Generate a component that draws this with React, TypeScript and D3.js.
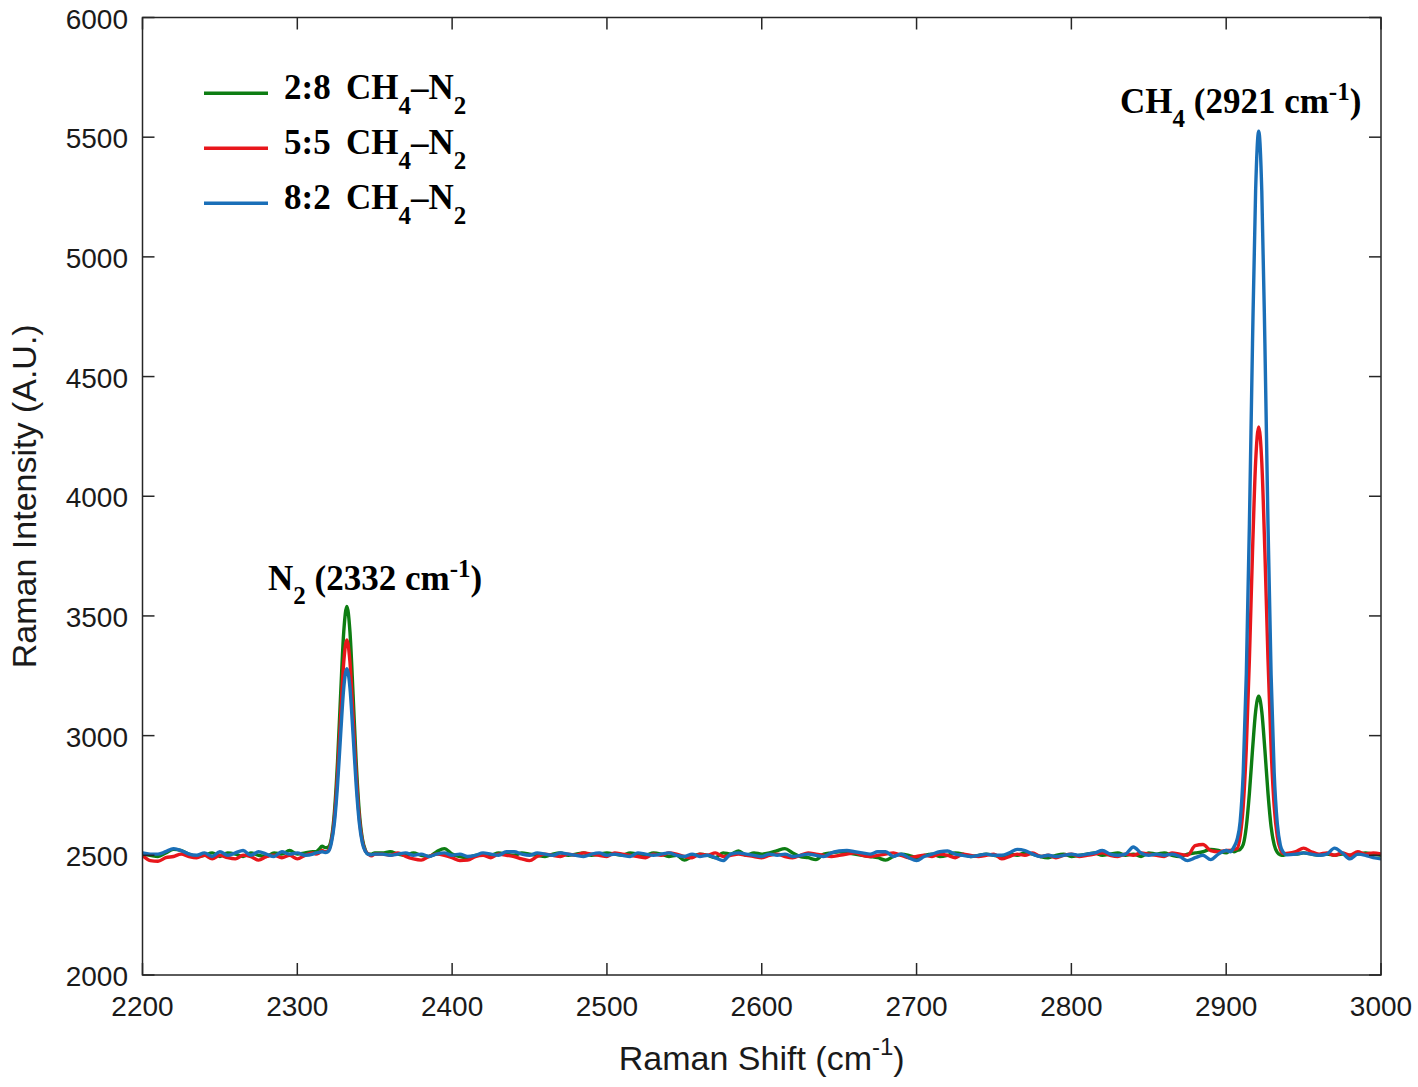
import React from "react";
import * as d3 from "d3";

// Raman shift sampling positions (cm^-1)
const ramanShift = [
  // 2200-2310
  2200, 2205, 2210, 2215, 2220, 2225, 2230, 2235, 2240, 2245, 2250, 2255, 2260, 2265, 2270, 2275, 2280, 2285, 2290, 2295, 2300, 2305, 2310,
  // N2 band
  2312, 2314, 2316, 2318, 2320, 2322, 2324, 2326, 2328, 2330, 2332, 2334, 2336, 2338, 2340, 2342, 2344, 2346, 2348, 2350,
  // 2355-2900
  2355, 2360, 2365, 2370, 2375, 2380, 2385, 2390, 2395, 2400,
  2405, 2410, 2415, 2420, 2425, 2430, 2435, 2440, 2445, 2450,
  2455, 2460, 2465, 2470, 2475, 2480, 2485, 2490, 2495, 2500,
  2505, 2510, 2515, 2520, 2525, 2530, 2535, 2540, 2545, 2550,
  2555, 2560, 2565, 2570, 2575, 2580, 2585, 2590, 2595, 2600,
  2605, 2610, 2615, 2620, 2625, 2630, 2635, 2640, 2645, 2650,
  2655, 2660, 2665, 2670, 2675, 2680, 2685, 2690, 2695, 2700,
  2705, 2710, 2715, 2720, 2725, 2730, 2735, 2740, 2745, 2750,
  2755, 2760, 2765, 2770, 2775, 2780, 2785, 2790, 2795, 2800,
  2805, 2810, 2815, 2820, 2825, 2830, 2835, 2840, 2845, 2850,
  2855, 2860, 2865, 2870, 2875, 2880, 2885, 2890, 2895, 2900,
  // CH4 band
  2903, 2905, 2907, 2909, 2911, 2913, 2915, 2917, 2919, 2921, 2923, 2925, 2927, 2929, 2931, 2933, 2935, 2937, 2939,
  // 2945-3000
  2945, 2950, 2955, 2960, 2965, 2970, 2975, 2980, 2985, 2990, 2995, 3000,
];

const intensity28 = [
  2505, 2500, 2495, 2510, 2525, 2520, 2505, 2495, 2500, 2510, 2495, 2510, 2505, 2495, 2510, 2500, 2495, 2510, 2505, 2520, 2505, 2510, 2515,
  2515, 2525, 2538, 2532, 2535, 2570, 2684, 2893, 3175, 3434, 3540, 3434, 3175, 2893, 2684, 2570, 2521, 2505, 2505, 2510,
  2510, 2515, 2505, 2500, 2510, 2500, 2495, 2515, 2528, 2505,
  2495, 2490, 2500, 2505, 2500, 2510, 2505, 2500, 2510, 2505,
  2500, 2495, 2505, 2510, 2500, 2505, 2510, 2500, 2505, 2510,
  2505, 2500, 2510, 2505, 2500, 2510, 2505, 2495, 2500, 2480,
  2495, 2505, 2500, 2490, 2510, 2505, 2518, 2500, 2510, 2505,
  2510, 2520, 2528, 2510, 2495, 2490, 2482, 2505, 2510, 2515,
  2510, 2505, 2500, 2495, 2490, 2480, 2495, 2505, 2500, 2490,
  2500, 2505, 2495, 2500, 2510, 2505, 2495, 2500, 2505, 2500,
  2495, 2505, 2500, 2510, 2505, 2495, 2490, 2500, 2505, 2495,
  2500, 2505, 2510, 2500, 2505, 2510, 2500, 2505, 2495, 2510,
  2505, 2510, 2500, 2495, 2505, 2510, 2515, 2525, 2520, 2510,
  2520, 2515, 2520, 2525, 2545, 2620, 2760, 2940, 3100, 3165, 3100, 2940, 2760, 2620, 2545, 2512, 2502, 2500, 2505,
  2505, 2510, 2505, 2500, 2505, 2500, 2505, 2500, 2505, 2510, 2505, 2500,
];

const intensity55 = [
  2500, 2478, 2475, 2490, 2495, 2505, 2495, 2490, 2500, 2485, 2500, 2490, 2485, 2500, 2495, 2480, 2495, 2500, 2490, 2500, 2485, 2500, 2510,
  2505, 2510, 2520, 2515, 2520, 2560, 2659, 2840, 3084, 3308, 3400, 3308, 3084, 2840, 2659, 2560, 2518, 2505, 2498, 2505,
  2505, 2500, 2510, 2495, 2485, 2480, 2495, 2505, 2500, 2490,
  2478, 2480, 2495, 2500, 2490, 2505, 2500, 2495, 2485, 2478,
  2495, 2505, 2500, 2495, 2505, 2500, 2510, 2505, 2500, 2495,
  2510, 2505, 2500, 2495, 2490, 2505, 2500, 2510, 2505, 2495,
  2490, 2505, 2500, 2510, 2495, 2500, 2505, 2500, 2495, 2490,
  2500, 2505, 2495, 2490, 2500, 2510, 2505, 2500, 2495, 2500,
  2505, 2510, 2500, 2495, 2500, 2505, 2510, 2500, 2490, 2495,
  2500, 2495, 2505, 2500, 2490, 2505, 2500, 2495, 2500, 2505,
  2485, 2495, 2505, 2500, 2510, 2495, 2500, 2490, 2500, 2505,
  2495, 2500, 2505, 2510, 2500, 2495, 2505, 2500, 2510, 2505,
  2500, 2495, 2510, 2505, 2500, 2540, 2545, 2520, 2515, 2520,
  2520, 2525, 2528, 2579, 2704, 2948, 3320, 3766, 4141, 4290, 4141, 3766, 3320, 2948, 2704, 2579, 2525, 2507, 2508,
  2515, 2530, 2515, 2505, 2510, 2500, 2510, 2500, 2515, 2505, 2510, 2505,
];

const intensity82 = [
  2510, 2505, 2505, 2515, 2528, 2520, 2505, 2500, 2510, 2495, 2515, 2500, 2510, 2520, 2500, 2515, 2505, 2495, 2515, 2505, 2510, 2500, 2505,
  2510, 2512, 2515, 2512, 2516, 2552, 2638, 2795, 3006, 3200, 3280, 3200, 3006, 2795, 2638, 2552, 2516, 2504, 2502, 2505,
  2505, 2500, 2505, 2510, 2500, 2505, 2495, 2505, 2510, 2500,
  2505, 2495, 2500, 2510, 2505, 2500, 2515, 2515, 2505, 2500,
  2510, 2505, 2500, 2510, 2505, 2500, 2495, 2505, 2510, 2500,
  2505, 2500, 2495, 2510, 2505, 2500, 2505, 2510, 2500, 2495,
  2505, 2495, 2500, 2490, 2478, 2505, 2510, 2505, 2500, 2495,
  2505, 2500, 2505, 2495, 2500, 2505, 2500, 2495, 2510, 2518,
  2520, 2515, 2510, 2505, 2515, 2515, 2495, 2505, 2490, 2478,
  2495, 2505, 2515, 2518, 2505, 2500, 2495, 2500, 2505, 2500,
  2500, 2510, 2525, 2520, 2505, 2495, 2500, 2495, 2500, 2505,
  2500, 2505, 2510, 2520, 2505, 2500, 2505, 2535, 2510, 2500,
  2505, 2500, 2505, 2495, 2478, 2490, 2500, 2482, 2505, 2520,
  2515, 2535, 2565, 2640, 2845, 3256, 3885, 4639, 5274, 5525, 5274, 4639, 3885, 3256, 2845, 2633, 2542, 2512, 2502,
  2505, 2510, 2505, 2500, 2505, 2530, 2510, 2485, 2505, 2500, 2490, 2485,
];

const seriesRatios = ["2:8", "5:5", "8:2"];
const seriesColors = ["#0d7d12", "#e8161b", "#1a6fb8"];
const seriesValues = [intensity28, intensity55, intensity82];

const xTicks = [2200, 2300, 2400, 2500, 2600, 2700, 2800, 2900, 3000];
const yTicks = [2000, 2500, 3000, 3500, 4000, 4500, 5000, 5500, 6000];

const W = 1418;
const H = 1087;
const left = 142.5;
const right = 1381;
const top = 17.5;
const bottom = 975;
const TICK = 12;
const axisColor = "#262626";
const sans = "'Liberation Sans', Arial, Helvetica, sans-serif";
const serif = "'Liberation Serif', 'Times New Roman', Times, serif";

export default function App() {
  const x = d3.scaleLinear().domain([2200, 3000]).range([left, right]);
  const y = d3.scaleLinear().domain([2000, 6000]).range([bottom, top]);

  const line = d3
    .line<number>()
    .x((_, i) => x(ramanShift[i]))
    .y((v) => y(v))
    .curve(d3.curveMonotoneX);

  return (
    <div style={{ position: "absolute", left: 0, top: 0 }}>
      <svg width={W} height={H} viewBox={`0 0 ${W} ${H}`} style={{ display: "block", background: "#fff" }}>
        <defs>
          <clipPath id="plotClip">
            <rect x={left} y={top} width={right - left} height={bottom - top} />
          </clipPath>
        </defs>

        <g clipPath="url(#plotClip)">
          {seriesValues.map((vals, si) => (
            <path
              key={si}
              d={line(vals) || ""}
              fill="none"
              stroke={seriesColors[si]}
              strokeWidth={3.4}
              strokeLinejoin="round"
              strokeLinecap="round"
            />
          ))}
        </g>

        <rect x={left} y={top} width={right - left} height={bottom - top} fill="none" stroke={axisColor} strokeWidth={1.5} />

        {xTicks.map((t) => (
          <g key={"xt" + t}>
            <line x1={x(t)} x2={x(t)} y1={bottom} y2={bottom - TICK} stroke={axisColor} strokeWidth={1.5} />
            <line x1={x(t)} x2={x(t)} y1={top} y2={top + TICK} stroke={axisColor} strokeWidth={1.5} />
            <text x={x(t)} y={1016} textAnchor="middle" fontFamily={sans} fontSize={28} fill="#1a1a1a">
              {t}
            </text>
          </g>
        ))}

        {yTicks.map((t) => (
          <g key={"yt" + t}>
            <line x1={left} x2={left + TICK} y1={y(t)} y2={y(t)} stroke={axisColor} strokeWidth={1.5} />
            <line x1={right} x2={right - TICK} y1={y(t)} y2={y(t)} stroke={axisColor} strokeWidth={1.5} />
            <text x={128} y={y(t) + 11} textAnchor="end" fontFamily={sans} fontSize={28} fill="#1a1a1a">
              {t}
            </text>
          </g>
        ))}

        <text x={(left + right) / 2} y={1070} textAnchor="middle" fontFamily={sans} fontSize={34} fill="#1a1a1a">
          Raman Shift (cm
          <tspan fontSize={24} dy={-15}>-1</tspan>
          <tspan dy={15}>)</tspan>
        </text>
        <text
          transform={`translate(36, ${(top + bottom) / 2}) rotate(-90)`}
          textAnchor="middle"
          fontFamily={sans}
          fontSize={34}
          fill="#1a1a1a"
        >
          Raman Intensity (A.U.)
        </text>

        {seriesRatios.map((r, i) => {
          const ly = 93.3 + i * 55;
          return (
            <g key={"lg" + i}>
              <line x1={204} x2={268} y1={ly} y2={ly} stroke={seriesColors[i]} strokeWidth={3.4} />
              <text x={284} y={ly + 6} fontFamily={serif} fontWeight="bold" fontSize={35} fill="#000">
                {r}
                <tspan x={346}>CH</tspan>
                <tspan fontSize={25} dy={15}>4</tspan>
                <tspan dy={-15}>–N</tspan>
                <tspan fontSize={25} dy={15}>2</tspan>
              </text>
            </g>
          );
        })}

        <text x={268} y={590} fontFamily={serif} fontWeight="bold" fontSize={35} fill="#000">
          N
          <tspan fontSize={25} dy={14}>2</tspan>
          <tspan dy={-14}> (2332 cm</tspan>
          <tspan fontSize={25} dy={-13}>-1</tspan>
          <tspan dy={13}>)</tspan>
        </text>
        <text x={1120} y={113} fontFamily={serif} fontWeight="bold" fontSize={35} fill="#000">
          CH
          <tspan fontSize={25} dy={14}>4</tspan>
          <tspan dy={-14}> (2921 cm</tspan>
          <tspan fontSize={25} dy={-13}>-1</tspan>
          <tspan dy={13}>)</tspan>
        </text>
      </svg>
    </div>
  );
}
